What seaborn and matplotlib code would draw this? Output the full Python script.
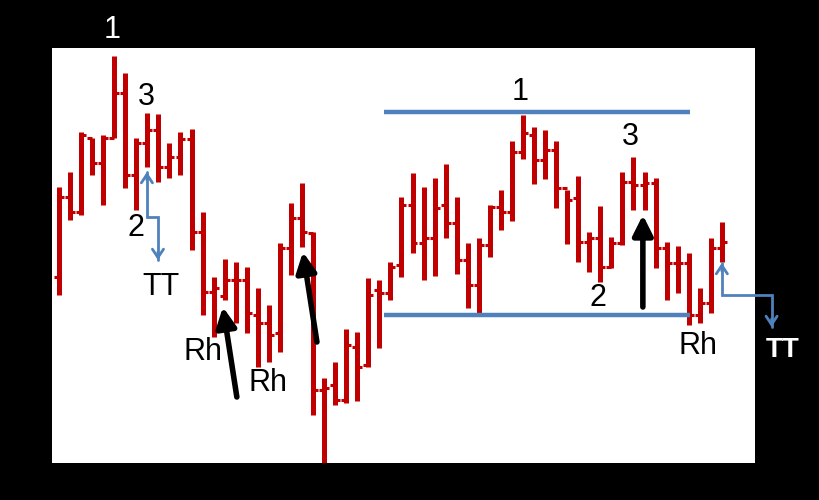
import pandas as pd
import seaborn as sns
import matplotlib.pyplot as plt

# --- OHLC bars (price units, top of chart is high) ---
highs = [313, 328, 368, 362, 365, 444, 427, 362, 387, 386, 357, 368, 371, 288, 223,
         241, 238, 233, 212, 195, 257, 297, 317, 268, 122, 138, 171, 168, 222, 220,
         238, 303, 327, 313, 322, 336, 303, 257, 262, 295, 310, 359, 385, 373, 370,
         359, 310, 324, 268, 294, 263, 328, 343, 328, 322, 258, 254, 247, 212, 262, 278]
lows = [205, 280, 285, 325, 295, 362, 312, 290, 333, 318, 322, 325, 250, 185, 163,
        200, 177, 167, 133, 138, 148, 225, 253, 85, 30, 95, 97, 99, 133, 152,
        200, 223, 247, 220, 224, 262, 226, 192, 187, 243, 270, 279, 341, 316, 321,
        292, 256, 238, 228, 218, 232, 255, 290, 290, 232, 200, 207, 175, 177, 187, 238]
opens = [223, 303, 288, 362, 337, 362, 407, 325, 357, 370, 333, 343, 361, 268, 208,
         204, 220, 220, 185, 177, 167, 252, 282, 267, 110, 115, 100, 153, 135, 210,
         207, 235, 295, 257, 262, 295, 277, 240, 215, 255, 293, 288, 348, 365, 340,
         350, 312, 302, 258, 262, 233, 257, 318, 315, 317, 252, 237, 237, 185, 197, 252]
closes = [303, 288, 365, 337, 362, 407, 325, 357, 370, 333, 343, 361, 268, 208, 212,
          220, 220, 187, 177, 165, 252, 282, 268, 110, 112, 100, 155, 133, 205, 207,
          233, 295, 257, 262, 292, 277, 240, 215, 255, 293, 288, 348, 367, 340, 350,
          312, 300, 258, 262, 233, 257, 318, 315, 317, 252, 237, 237, 185, 197, 252, 258]

bars = pd.DataFrame({"high": highs, "low": lows, "open": opens, "close": closes})
bars["bar"] = range(len(bars))

# --- support / resistance levels ---
top_line = 388
bottom_line = 185
line_from, line_to = 29.4, 57.1

sns.set_style("white")
plt.rcParams["font.family"] = ["Liberation Sans", "DejaVu Sans"]

red = "#C00000"
blue = "#4F81BD"

fig = plt.figure(figsize=(8.2, 5), dpi=100, facecolor="black")
ax = fig.add_axes([52 / 820, 37 / 500, 703 / 820, 415 / 500])
ax.set_facecolor("white")

# high-low bars plus open (left) and close (right) ticks
ax.vlines(bars["bar"], bars["low"], bars["high"], color=red, lw=3.6)
ax.hlines(bars["open"], bars["bar"] - 0.45, bars["bar"], color=red, lw=2.2)
ax.hlines(bars["close"], bars["bar"], bars["bar"] + 0.45, color=red, lw=2.2)

# trading range lines
ax.hlines([top_line, bottom_line], line_from, line_to, color=blue, lw=3.2)

ax.set_xlim(-0.63, 63.0)
ax.set_ylim(37, 452)
ax.set_xticks([])
ax.set_yticks([])
for s in ax.spines.values():
    s.set_visible(False)

# --- labels ---
txt = dict(fontsize=22, ha="center", va="center", color="black")
ax.text(4.8, 470, "1", **{**txt, "color": "white"})
ax.text(7.9, 403, "3", **txt)
ax.text(7.0, 272, "2", **txt)
ax.text(9.2, 213, "TT", **txt)
ax.text(13.0, 148, "Rh", **txt)
ax.text(18.9, 117, "Rh", **txt)
ax.text(41.7, 408, "1", **txt)
ax.text(51.7, 363, "3", **txt)
ax.text(48.8, 202, "2", **txt)
ax.text(57.8, 154, "Rh", **txt)
ax.text(65.5, 150, "TT", color="white", fontsize=20, fontweight="bold",
        ha="center", va="center")

# --- black arrows ---
for (x0, y0), (x1, y1) in [((16.1, 103), (14.84, 193)),
                           ((23.35, 158), (22.08, 248)),
                           ((52.85, 193), (52.85, 285))]:
    ax.annotate("", xy=(x1, y1), xytext=(x0, y0),
                arrowprops=dict(arrowstyle="-|>,head_length=1.2,head_width=0.6",
                                lw=4, color="black", shrinkA=0, shrinkB=0))

# --- blue step arrows (price target markers) ---
for xa, xb, ya, ymid, yb in [(7.96, 8.96, 328, 283, 240),
                             (60.0, 64.5, 237, 205, 173)]:
    ax.plot([xa, xa, xb, xb], [ya, ymid, ymid, yb], color=blue, lw=2,
            clip_on=False, solid_joinstyle="miter")
    ax.annotate("", xy=(xa, ya), xytext=(xa, ya - 8),
                arrowprops=dict(arrowstyle="->,head_length=0.6,head_width=0.4",
                                lw=2, color=blue, shrinkA=0, shrinkB=0),
                annotation_clip=False)
    ax.annotate("", xy=(xb, yb), xytext=(xb, yb + 8),
                arrowprops=dict(arrowstyle="->,head_length=0.6,head_width=0.4",
                                lw=2, color=blue, shrinkA=0, shrinkB=0),
                annotation_clip=False)

fig.savefig("out.png", dpi=100, facecolor="black")
